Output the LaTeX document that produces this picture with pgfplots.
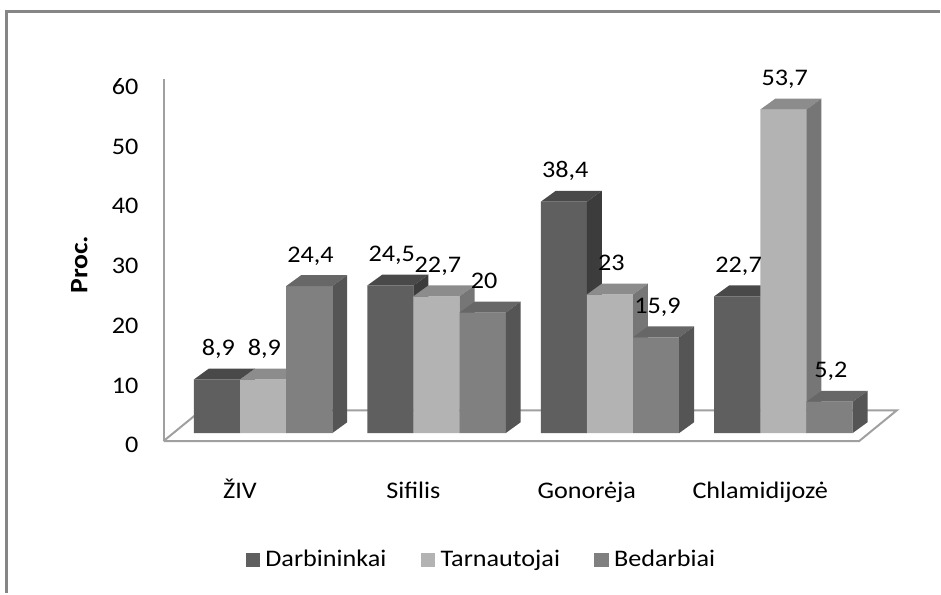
\documentclass[border=0pt]{standalone}
\usepackage{fontspec}
\setmainfont{Carlito}[FakeStretch=1.1]
\usepackage{pgfplots}
\pgfplotsset{compat=1.18}
\definecolor{dfront}{HTML}{5F5F5F}
\definecolor{dtop}{HTML}{494949}
\definecolor{dside}{HTML}{3C3C3C}
\definecolor{lfront}{HTML}{B3B3B3}
\definecolor{ltop}{HTML}{8C8C8C}
\definecolor{lside}{HTML}{767676}
\definecolor{mfront}{HTML}{808080}
\definecolor{mtop}{HTML}{676767}
\definecolor{mside}{HTML}{555555}
\definecolor{gridgray}{HTML}{A0A0A0}
\definecolor{framegray}{HTML}{868686}
\pgfplotsset{
  barlabels/.style={nodes near coords,
    every node near coord/.append style={anchor=base, inner sep=0pt, yshift=18pt, xshift=1pt, text=black}},
}
\begin{document}
\fontsize{18}{21}\selectfont
\begin{tikzpicture}
\begin{axis}[
  scale only axis,
  width=705.75pt, height=448.5pt,
  xmin=-1.5171, xmax=3.86,
  ymin=-26.48, ymax=71.875,
  clip=false,
  axis line style={draw=none},
  tick style={draw=none},
  major tick length=0pt,
  ytick={-1.48,8.44,18.36,28.28,38.2,48.12,58.04},
  yticklabels={0,10,20,30,40,50,60},
  yticklabel style={anchor=east, inner sep=0pt, xshift=105pt, yshift=-2.5pt},
  xtick={-0.134,0.866,1.866,2.866},
  xticklabels={ŽIV,Sifilis,Gonorėja,Chlamidijozė},
  xticklabel style={anchor=base, inner sep=0pt, yshift=71.25pt},
  ylabel={\fontsize{19}{22}\selectfont\bfseries Proc.},
  ylabel style={at={(axis description cs:0.085,0.5535)}, anchor=center, rotate=0},
  legend style={at={(axis description cs:0.5165,0.0552)}, anchor=center,
    draw=none, fill=none, legend columns=3,
    /tikz/every even column/.append style={column sep=24pt},
    legend cell align=left},
  /pgf/number format/use comma,
  /pgf/number format/assume math mode=true,
]
% outer frame
\draw[framegray, line width=2.25pt] (axis cs:-1.477,-26.48) -- (axis cs:-1.477,69.9) -- (axis cs:3.9,69.9);
% floor and value axis line
\addplot[forget plot, fill=white, draw=gridgray, line width=1.5pt]
  coordinates {(-0.574,-1.32) (3.437,-1.32) (3.654,3.78) (-0.357,3.78) (-0.574,-1.32)};
\addplot[forget plot, draw=gridgray, line width=1.5pt]
  coordinates {(-0.574,-1.32) (-0.574,58.7)};

% Darbininkai
\addplot[ybar, bar width=0.266, bar shift=0pt, fill=dfront, draw=none, barlabels,
  legend image code/.code={\fill[dfront] (0pt,-5.5pt) rectangle (11pt,5.5pt); \path (13pt,0pt);}]
  coordinates {(-0.266,8.9) (0.734,24.5) (1.734,38.4) (2.734,22.7)};
\addlegendentry{Darbininkai}
\addplot[forget plot, fill=dtop, draw=none, unbounded coords=jump]
  coordinates {(-0.399,8.9) (-0.133,8.9) (-0.047,10.7) (-0.313,10.7) (nan,nan)
  (0.601,24.5) (0.867,24.5) (0.953,26.3) (0.687,26.3) (nan,nan)
  (1.601,38.4) (1.867,38.4) (1.953,40.2) (1.687,40.2) (nan,nan)
  (2.601,22.7) (2.867,22.7) (2.953,24.5) (2.687,24.5)};
\addplot[forget plot, fill=dside, draw=none, unbounded coords=jump]
  coordinates {(-0.133,0) (-0.047,1.8) (-0.047,10.7) (-0.133,8.9) (nan,nan)
  (0.867,0) (0.953,1.8) (0.953,26.3) (0.867,24.5) (nan,nan)
  (1.867,0) (1.953,1.8) (1.953,40.2) (1.867,38.4) (nan,nan)
  (2.867,0) (2.953,1.8) (2.953,24.5) (2.867,22.7)};

% Tarnautojai
\addplot[ybar, bar width=0.266, bar shift=0pt, fill=lfront, draw=none, barlabels,
  legend image code/.code={\fill[lfront] (0pt,-5.5pt) rectangle (11pt,5.5pt); \path (13pt,0pt);}]
  coordinates {(0,8.9) (1,22.7) (2,23) (3,53.7)};
\addlegendentry{Tarnautojai}
\addplot[forget plot, fill=ltop, draw=none, unbounded coords=jump]
  coordinates {(-0.133,8.9) (0.133,8.9) (0.219,10.7) (-0.047,10.7) (nan,nan)
  (0.867,22.7) (1.133,22.7) (1.219,24.5) (0.953,24.5) (nan,nan)
  (1.867,23) (2.133,23) (2.219,24.8) (1.953,24.8) (nan,nan)
  (2.867,53.7) (3.133,53.7) (3.219,55.5) (2.953,55.5)};
\addplot[forget plot, fill=lside, draw=none, unbounded coords=jump]
  coordinates {(0.133,0) (0.219,1.8) (0.219,10.7) (0.133,8.9) (nan,nan)
  (1.133,0) (1.219,1.8) (1.219,24.5) (1.133,22.7) (nan,nan)
  (2.133,0) (2.219,1.8) (2.219,24.8) (2.133,23) (nan,nan)
  (3.133,0) (3.219,1.8) (3.219,55.5) (3.133,53.7)};

% Bedarbiai
\addplot[ybar, bar width=0.266, bar shift=0pt, fill=mfront, draw=none, barlabels,
  legend image code/.code={\fill[mfront] (0pt,-5.5pt) rectangle (11pt,5.5pt); \path (13pt,0pt);}]
  coordinates {(0.266,24.4) (1.266,20) (2.266,15.9) (3.266,5.2)};
\addlegendentry{Bedarbiai}
\addplot[forget plot, fill=mtop, draw=none, unbounded coords=jump]
  coordinates {(0.133,24.4) (0.399,24.4) (0.485,26.2) (0.219,26.2) (nan,nan)
  (1.133,20) (1.399,20) (1.485,21.8) (1.219,21.8) (nan,nan)
  (2.133,15.9) (2.399,15.9) (2.485,17.7) (2.219,17.7) (nan,nan)
  (3.133,5.2) (3.399,5.2) (3.485,7) (3.219,7)};
\addplot[forget plot, fill=mside, draw=none, unbounded coords=jump]
  coordinates {(0.399,0) (0.485,1.8) (0.485,26.2) (0.399,24.4) (nan,nan)
  (1.399,0) (1.485,1.8) (1.485,21.8) (1.399,20) (nan,nan)
  (2.399,0) (2.485,1.8) (2.485,17.7) (2.399,15.9) (nan,nan)
  (3.399,0) (3.485,1.8) (3.485,7) (3.399,5.2)};
\end{axis}
\end{tikzpicture}
\end{document}
